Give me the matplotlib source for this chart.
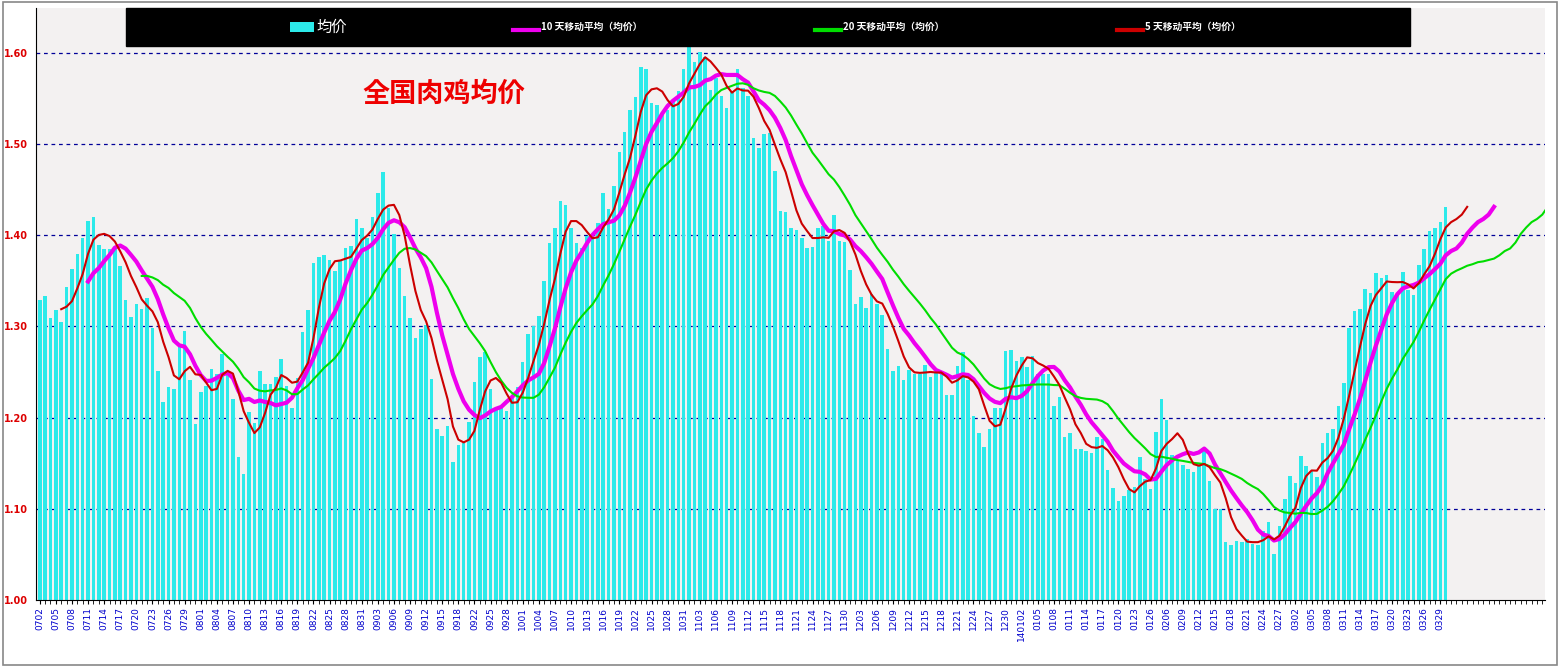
import matplotlib
matplotlib.use("Agg")
import matplotlib.pyplot as plt
import numpy as np
from matplotlib import font_manager
from matplotlib.patches import Rectangle
from matplotlib.lines import Line2D
from matplotlib.ticker import MultipleLocator

cjk = None
for f in font_manager.findSystemFonts():
    if "NotoSansCJK" in f.replace(" ", "") and "Bold" in f:
        cjk = f; break
if cjk is None:
    for f in font_manager.findSystemFonts():
        if "CJK" in f:
            cjk = f; break
if cjk:
    font_manager.fontManager.addfont(cjk)
    cjk_name = font_manager.FontProperties(fname=cjk).get_name()
else:
    cjk_name = "Noto Sans CJK SC"
plt.rcParams["font.family"] = [cjk_name, "DejaVu Sans"]

prices = [
 1.329,1.333,1.309,1.318,1.305,1.343,1.363,1.379,1.397,1.416,1.420,1.389,1.385,1.385,1.386,1.366,
 1.329,1.310,1.324,1.319,1.331,1.298,1.251,1.217,1.234,1.231,1.277,1.295,1.241,1.193,1.228,1.235,
 1.253,1.248,1.270,1.250,1.220,1.157,1.138,1.206,1.194,1.251,1.237,1.237,1.244,1.264,1.235,
 1.211,1.243,1.294,1.318,1.369,1.376,1.378,1.373,1.361,1.373,1.386,1.388,1.418,1.408,1.397,1.420,
 1.446,1.469,1.430,1.401,1.364,1.333,1.309,1.287,1.297,1.301,1.242,1.187,1.180,1.191,1.151,1.170,
 1.172,1.195,1.239,1.266,1.272,1.231,1.209,1.212,1.207,1.222,1.234,1.261,1.292,1.300,1.311,
 1.350,1.391,1.408,1.437,1.433,1.408,1.391,1.386,1.399,1.399,1.413,1.446,1.429,1.454,1.491,1.513,
 1.537,1.551,1.584,1.582,1.545,1.543,1.533,1.537,1.548,1.558,1.582,1.607,1.590,1.601,1.595,1.559,
 1.572,1.553,1.539,1.558,1.582,1.561,1.552,1.506,1.496,1.511,1.512,1.470,1.427,1.425,
 1.408,1.406,1.397,1.386,1.387,1.408,1.410,1.394,1.422,1.394,1.392,1.362,1.324,1.332,1.320,1.336,
 1.325,1.312,1.275,1.251,1.256,1.241,1.252,1.248,1.248,1.258,1.244,1.249,1.248,1.225,1.225,1.257,
 1.272,1.241,1.202,1.183,1.168,1.188,1.211,1.211,1.273,1.274,1.262,1.266,1.255,1.268,
 1.248,1.248,1.248,1.213,1.222,1.179,1.183,1.166,1.165,1.163,1.161,1.179,1.176,1.142,1.123,1.108,
 1.114,1.121,1.124,1.157,1.133,1.122,1.184,1.220,1.197,1.159,1.154,1.148,1.144,1.140,1.150,1.164,
 1.130,1.100,1.100,1.064,1.060,1.065,1.064,1.067,1.061,1.060,1.076,1.085,1.050,1.081,1.111,
 1.136,1.128,1.158,1.147,1.141,1.135,1.172,1.183,1.187,1.213,1.238,1.298,1.317,1.319,1.341,1.337,
 1.359,1.353,1.356,1.338,1.336,1.360,1.340,1.334,1.367,1.385,1.404,1.408,1.414,1.431,
]

tick_labels = ["0702","0705","0708","0711","0714","0717","0720","0723","0726","0729",
 "0801","0804","0807","0810","0813","0816","0819","0822","0825","0828","0831",
 "0903","0906","0909","0912","0915","0918","0922","0925","0928",
 "1001","1004","1007","1010","1013","1016","1019","1022","1025","1028","1031",
 "1103","1106","1109","1112","1115","1118","1121","1124","1127","1130",
 "1203","1206","1209","1212","1215","1218","1221","1224","1227","1230",
 "140102","0105","0108","0111","0114","0117","0120","0123","0126",
 "0206","0209","0212","0215","0218","0221","0224","0227",
 "0302","0305","0308","0311","0314","0317","0320","0323","0326","0329"]

ma_windows = [10, 20, 5]
ma_labels = ["10 天移动平均（均价）", "20 天移动平均（均价）", "5 天移动平均（均价）"]
ma_colors = ["#ee00ee", "#00dd00", "#cc0000"]
ma_widths = [3.0, 1.5, 1.5]
bar_color = "#2ceaea"

N = len(prices)
data = np.array(prices)

W, H = 1560, 667
fig = plt.figure(figsize=(15.6, 6.67), dpi=100)
fig.patch.set_facecolor("white")
ax = fig.add_axes([36 / W, 67 / H, 1509 / W, 592 / H])
ax.set_facecolor("#f3f1f1")

x = np.arange(N)
ax.bar(x, data - 1.0, bottom=1.0, width=0.66, color=bar_color, zorder=2)

for w, c, lw in zip(ma_windows, ma_colors, ma_widths):
    ks = np.arange(w - 1, N - 1 + w)
    vals = [data[max(0, k - w + 1):min(N, k + 1)].mean() for k in ks]
    ax.plot(ks, vals, color=c, lw=lw, zorder=3)

ax.set_xlim(-0.7, 280.5)
ax.set_ylim(1.0, 1.649)
for yv in np.arange(1.1, 1.61, 0.1):
    ax.axhline(yv, color="#000099", lw=0.9, ls=(0, (3, 3)), zorder=1)

yt = np.round(np.arange(1.0, 1.61, 0.1), 2)
ax.set_yticks(yt)
ax.set_yticklabels([f"{v:.2f}" for v in yt], color="#dd0000",
                   fontsize=7, fontweight="bold", fontfamily="DejaVu Sans")
ax.tick_params(axis="y", length=0, pad=6)
ax.set_xticks(np.arange(0, 3 * len(tick_labels), 3))
ax.set_xticklabels(tick_labels, rotation=90, color="#0000cc", fontsize=6.5, fontfamily="DejaVu Sans")
ax.xaxis.set_minor_locator(MultipleLocator(1))
ax.tick_params(axis="x", which="both", length=3, pad=2)
for s in ["top", "right"]:
    ax.spines[s].set_visible(False)

ax.text(362 / W, 1 - 102 / H, "全国肉鸡均价", transform=fig.transFigure, color="#ee0000",
        fontsize=19.5, fontweight="bold", zorder=5)

# legend box
fig.add_artist(Rectangle((126 / W, 1 - 46 / H), (1410 - 126) / W, 38 / H,
                         facecolor="black", edgecolor="black", transform=fig.transFigure, zorder=4))
ty = 1 - 27 / H
fig.add_artist(Rectangle((290 / W, 1 - 32 / H), 24 / W, 10 / H, facecolor=bar_color,
                         edgecolor="none", transform=fig.transFigure, zorder=5))
fig.text(316 / W, ty, "均价", color="white", fontsize=11, va="center", zorder=6)
for x0, lab, c in zip([513, 815, 1117], ma_labels, ma_colors):
    fig.add_artist(Line2D([x0 / W, (x0 + 26) / W], [ty - 0.004, ty - 0.004], color=c, lw=3,
                          transform=fig.transFigure, zorder=5))
    fig.text((x0 + 28) / W, ty, lab, color="white", fontsize=7, fontweight="bold",
             va="center", zorder=6)

fig.add_artist(Rectangle((0.002, 0.003), 0.996, 0.994, fill=False,
                         edgecolor="#888888", lw=1.2, transform=fig.transFigure))
fig.savefig("out.png", dpi=100)
